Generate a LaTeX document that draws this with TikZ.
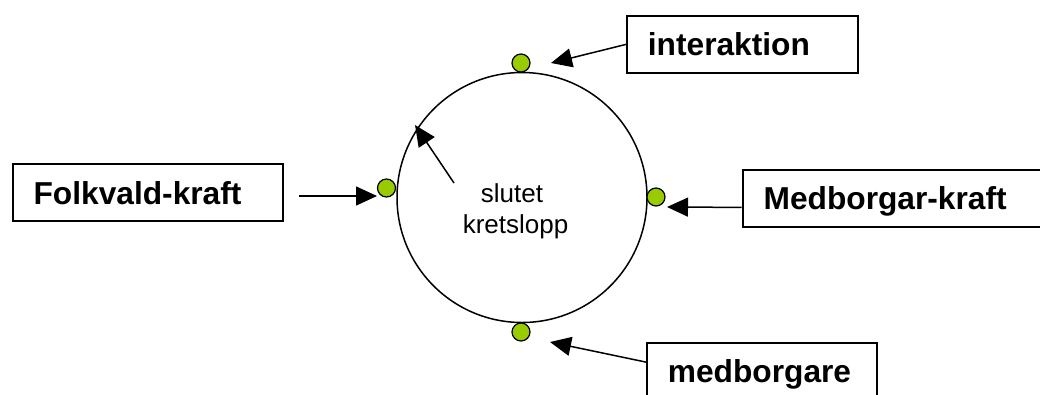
\documentclass[tikz,border=0pt]{standalone}
\usepackage{fontspec}
\setmainfont{Liberation Sans}
\usetikzlibrary{arrows.meta,calc}
\definecolor{dotgreen}{RGB}{153,204,0}
\begin{document}
\begin{tikzpicture}[x=1pt,y=-1pt,
  labelbox/.style={draw, line width=1.8pt, anchor=north west, inner xsep=21pt, inner ysep=0pt,
    minimum height=57pt, align=left, font=\fontsize{31.7}{38}\selectfont\bfseries,
    text height=23pt, text depth=0pt},
  dot/.style={circle, draw, line width=1.2pt, fill=dotgreen, minimum size=18pt, inner sep=0pt},
  arr/.style={line width=1.5pt, -{Triangle[length=21pt,width=19pt]}},
  small/.style={font=\fontsize{26}{31}\selectfont, inner sep=0pt, anchor=base}]
\useasboundingbox (0,0) rectangle (1040,394);
\clip (0,0) rectangle (1040,394);
% boxes
\node[labelbox, text width=228pt] (fk) at (11.7,163.3) {Folkvald-kraft};
\node[labelbox, text width=189pt] (ia) at (626,15) {interaktion};
\node[labelbox, text width=278pt] (mk) at (741.7,169) {Medborgar-kraft};
\node[labelbox, text width=188pt] (mb) at (646,341.7) {medborgare};
% loop
\node[circle, draw, line width=1.5pt, minimum size=250pt, inner sep=0pt] (loop) at (522,197.5) {};
\node[small] (t1) at (512,202) {slutet};
\node[small] (t2) at (515.5,233) {kretslopp};
% dots
\node[dot] (dtop) at (521,63) {};
\node[dot] (dleft) at (386.5,188) {};
\node[dot] (dright) at (656,197) {};
\node[dot] (dbottom) at (521,332) {};
% arrows
\coordinate (iatip) at (551,63);
\coordinate (instart) at (454,183);
\coordinate (intip) at (415,125);
\coordinate (fkstart) at (299,196);
\coordinate (fktip) at (377,196);
\coordinate (mktip) at (667,207);
\coordinate (mbtip) at (550,342);
\draw[arr] (ia.west) -- (iatip);
\draw[arr] (instart) -- (intip);
\draw[arr] (fkstart) -- (fktip);
\draw[arr] ($(mk.west)+(0,9)$) -- (mktip);
\draw[arr] ($(mb.west)+(0,-9)$) -- (mbtip);
\end{tikzpicture}
\end{document}
